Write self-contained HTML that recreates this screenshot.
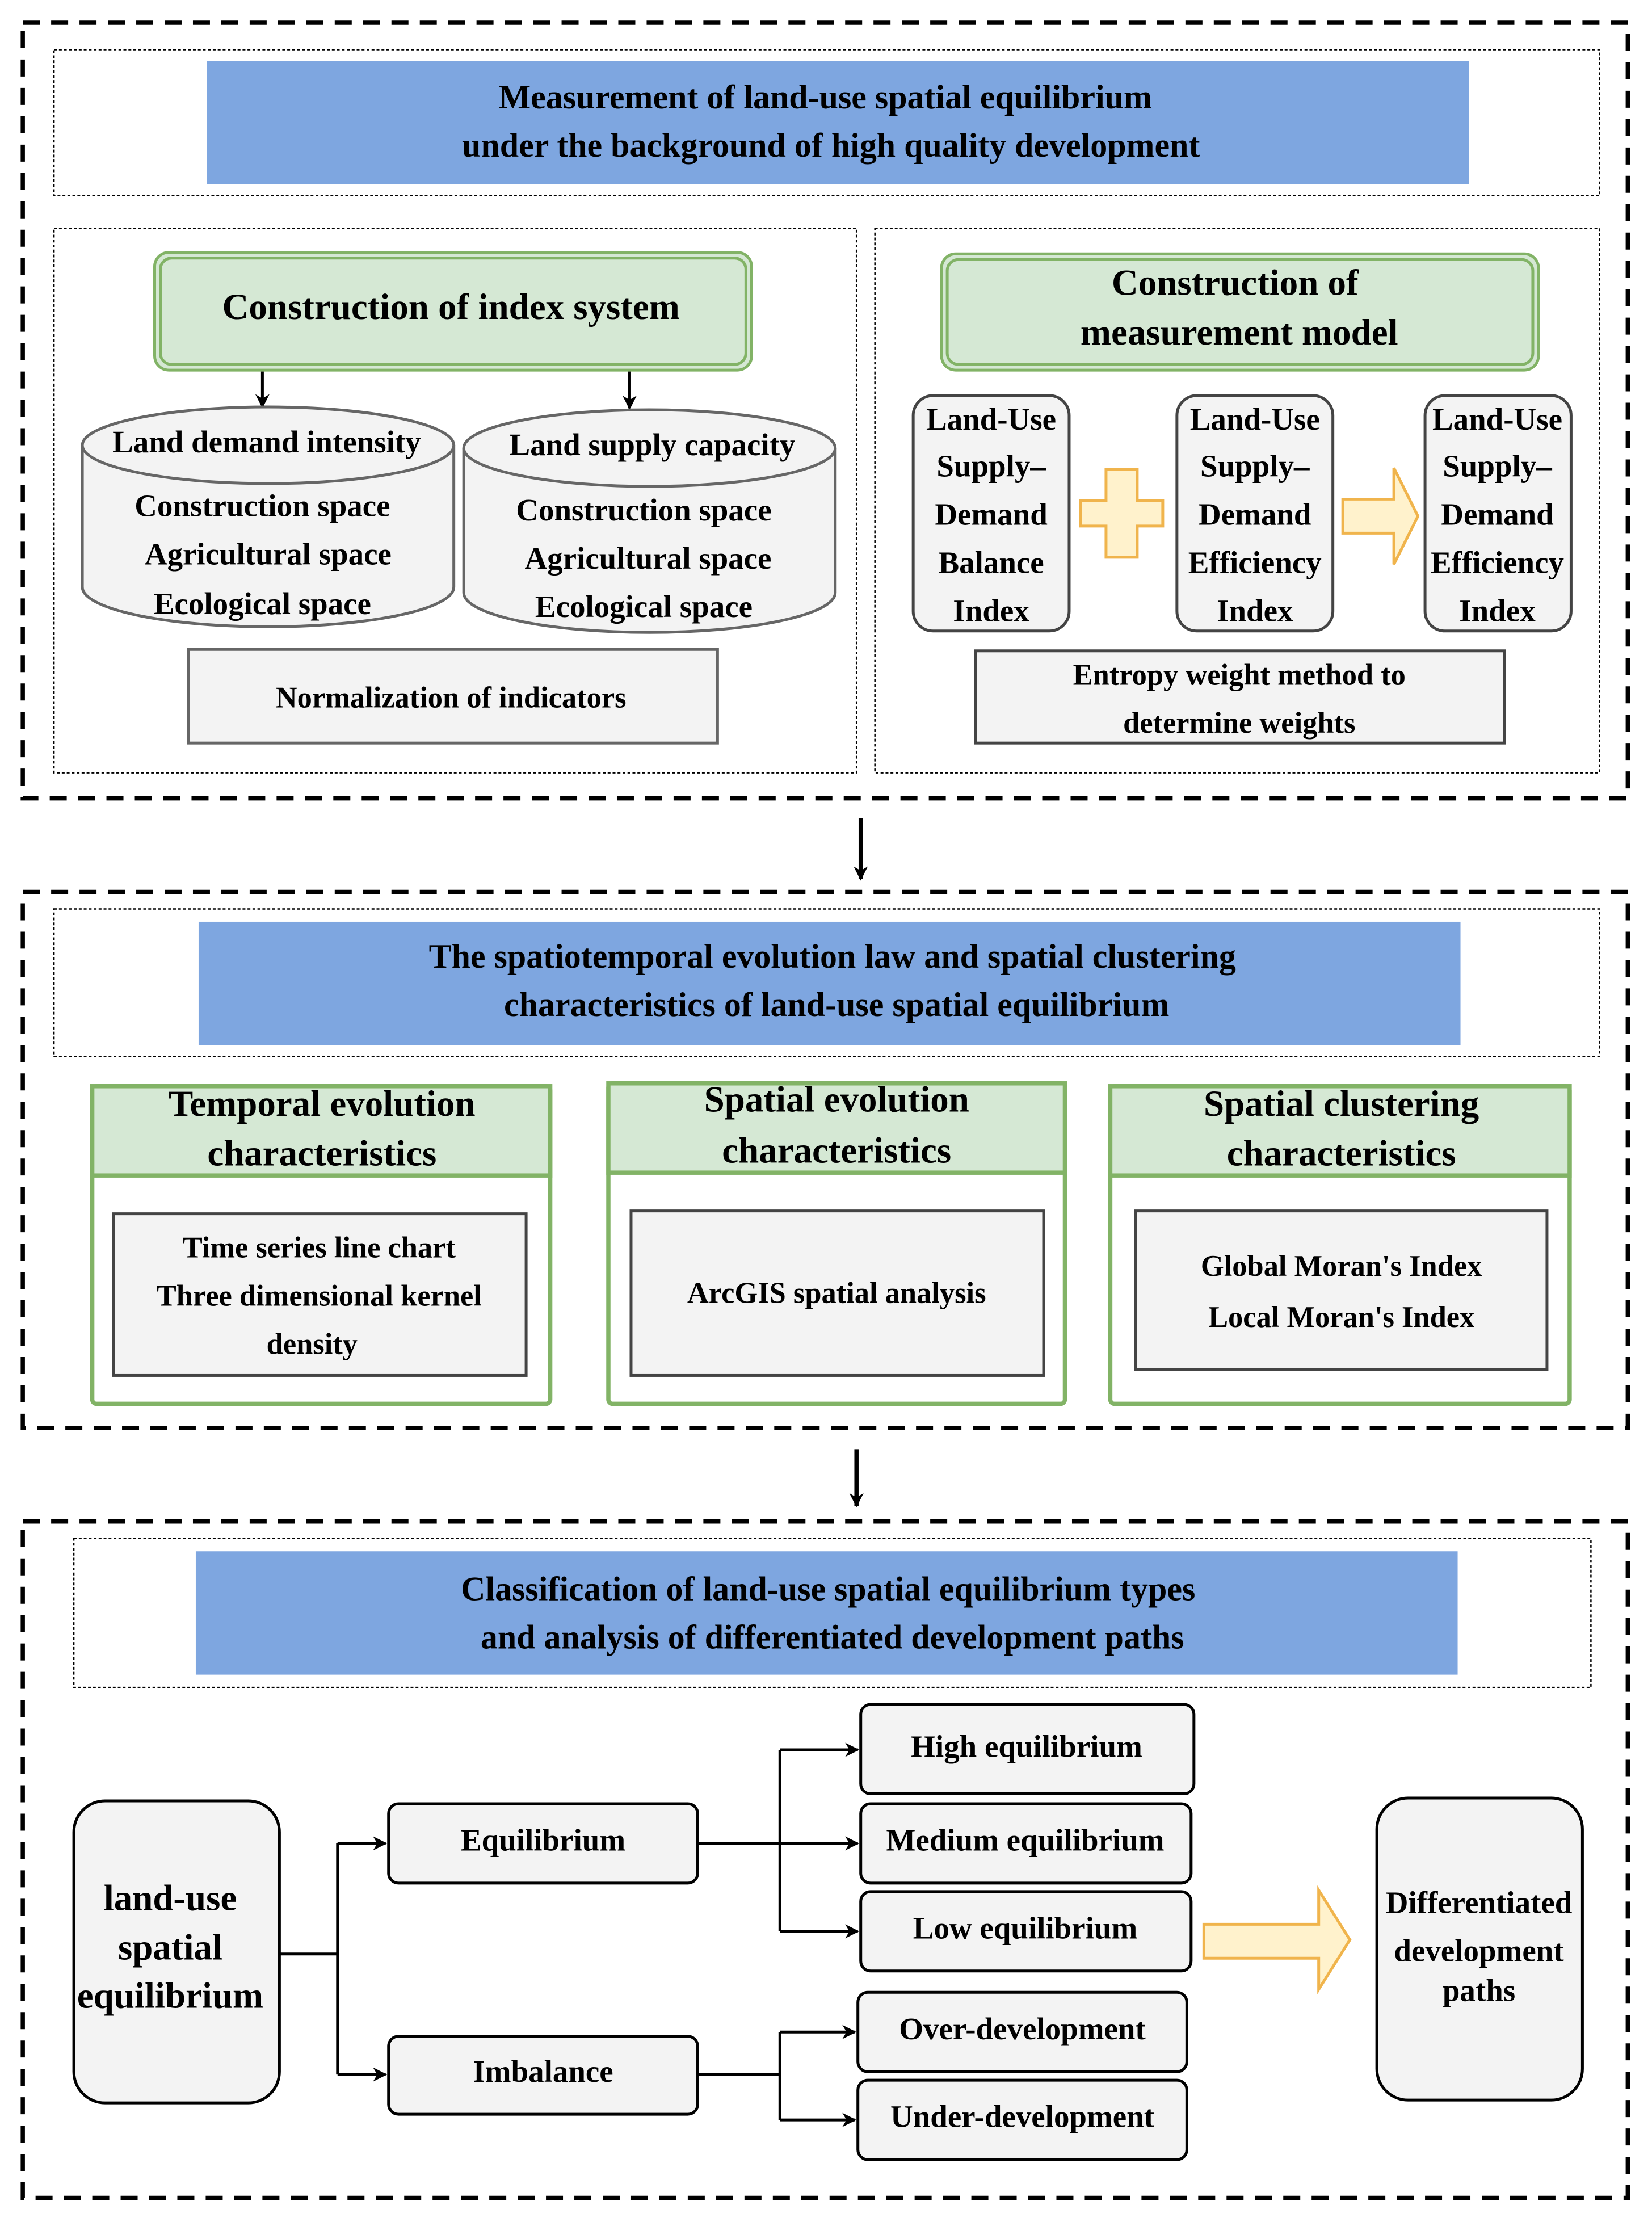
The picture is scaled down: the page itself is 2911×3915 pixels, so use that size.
<!DOCTYPE html>
<html><head><meta charset="utf-8">
<style>
html,body{margin:0;padding:0;background:#fff;font-family:"Liberation Serif","DejaVu Serif",serif;}
svg{display:block;}
svg text{font-family:"Liberation Serif","DejaVu Serif",serif;font-weight:bold;fill:#000;text-anchor:middle;dominant-baseline:middle;}
</style></head>
<body>
<svg width="2911" height="3915" viewBox="0 0 1165 1567" xmlns="http://www.w3.org/2000/svg" font-family="'Liberation Serif', 'DejaVu Serif', serif" font-weight="bold">
<defs>
<marker id="ar" markerWidth="10" markerHeight="10" refX="9" refY="5" orient="auto" markerUnits="userSpaceOnUse">
<path d="M0,0 L10,5 L0,10 L3,5 Z" fill="#000"/>
</marker>
</defs>
<g fill="none" stroke="#000">
<rect x="16" y="16" width="1132" height="547" stroke-width="3" stroke-dasharray="12,8"/>
<rect x="16" y="629" width="1132" height="378" stroke-width="3" stroke-dasharray="12,8"/>
<rect x="16" y="1073" width="1132" height="477" stroke-width="3" stroke-dasharray="12,8"/>
<g stroke-width="1" stroke-dasharray="2,1.5">
<rect x="38" y="35" width="1090" height="103"/>
<rect x="38" y="161" width="566" height="384"/>
<rect x="617" y="161" width="511" height="384"/>
<rect x="38" y="641" width="1090" height="104"/>
<rect x="52" y="1085" width="1070" height="105"/>
</g>
</g>
<rect x="146" y="43" width="890" height="87" fill="#7EA6E0"/>
<text x="582" y="71" font-size="24">Measurement of land-use spatial equilibrium</text>
<text x="586" y="105" font-size="24">under the background of high quality development</text>
<rect x="140" y="650" width="890" height="87" fill="#7EA6E0"/>
<text x="587" y="677" font-size="24">The spatiotemporal evolution law and spatial clustering</text>
<text x="590" y="711" font-size="24">characteristics of land-use spatial equilibrium</text>
<rect x="138" y="1094" width="890" height="87" fill="#7EA6E0"/>
<text x="584" y="1123" font-size="24">Classification of land-use spatial equilibrium types</text>
<text x="587" y="1157" font-size="24">and analysis of differentiated development paths</text>

<rect x="109" y="178" width="421" height="83" rx="10" fill="#d5e8d4" stroke="#82b366" stroke-width="2"/>
<rect x="113" y="182" width="413" height="75" rx="8" fill="none" stroke="#82b366" stroke-width="2"/>
<text x="318" y="219" font-size="26">Construction of index system</text>
<line x1="185" y1="262" x2="185" y2="287" stroke="#000" stroke-width="2" marker-end="url(#ar)"/>
<line x1="444" y1="262" x2="444" y2="288" stroke="#000" stroke-width="2" marker-end="url(#ar)"/>
<g fill="#f3f3f3" stroke="#666" stroke-width="2">
<path d="M58,314 L58,414 A131,28 0 0 0 320,414 L320,314"/>
<ellipse cx="189" cy="314" rx="131" ry="27"/>
<path d="M327,316 L327,418 A131,28 0 0 0 589,418 L589,316"/>
<ellipse cx="458" cy="316" rx="131" ry="27"/>
<rect x="133" y="458" width="373" height="66"/>
</g>
<text x="188" y="314" font-size="22">Land demand intensity</text>
<text x="185" y="359" font-size="22">Construction space</text>
<text x="189" y="393" font-size="22">Agricultural space</text>
<text x="185" y="428" font-size="22">Ecological space</text>
<text x="460" y="316" font-size="22">Land supply capacity</text>
<text x="454" y="362" font-size="22">Construction space</text>
<text x="457" y="396" font-size="22">Agricultural space</text>
<text x="454" y="430" font-size="22">Ecological space</text>
<text x="318" y="494" font-size="21">Normalization of indicators</text>

<rect x="664" y="179" width="421" height="82" rx="10" fill="#d5e8d4" stroke="#82b366" stroke-width="2"/>
<rect x="668" y="183" width="413" height="74" rx="8" fill="none" stroke="#82b366" stroke-width="2"/>
<text x="871" y="202" font-size="26">Construction of</text>
<text x="874" y="237" font-size="26">measurement model</text>
<g fill="#f3f3f3" stroke="#444" stroke-width="2">
<rect x="644" y="279" width="110" height="166" rx="14"/>
<rect x="830" y="279" width="110" height="166" rx="14"/>
<rect x="1005" y="279" width="103" height="166" rx="14"/>
<rect x="688" y="459" width="373" height="65"/>
</g>
<g font-size="22">
<text x="699" y="298">Land-Use</text><text x="699" y="331">Supply–</text><text x="699" y="365">Demand</text><text x="699" y="399">Balance</text><text x="699" y="433">Index</text>
<text x="885" y="298">Land-Use</text><text x="885" y="331">Supply–</text><text x="885" y="365">Demand</text><text x="885" y="399">Efficiency</text><text x="885" y="433">Index</text>
<text x="1056" y="298">Land-Use</text><text x="1056" y="331">Supply–</text><text x="1056" y="365">Demand</text><text x="1056" y="399">Efficiency</text><text x="1056" y="433">Index</text>
</g>
<text x="874" y="478" font-size="21">Entropy weight method to</text>
<text x="874" y="512" font-size="21">determine weights</text>
<path d="M780,331 L802,331 L802,353 L820,353 L820,371 L802,371 L802,393 L780,393 L780,371 L762,371 L762,353 L780,353 Z" fill="#fff2cc" stroke="#f0b44c" stroke-width="2"/>
<path d="M947,352 L983,352 L983,330 L1000,364 L983,398 L983,376 L947,376 Z" fill="#fff2cc" stroke="#f0b44c" stroke-width="2"/>

<line x1="607" y1="577" x2="607" y2="620" stroke="#000" stroke-width="3" marker-end="url(#ar)"/>
<line x1="604" y1="1022" x2="604" y2="1062" stroke="#000" stroke-width="3" marker-end="url(#ar)"/>

<g stroke="#82b366" stroke-width="3">
<rect x="65" y="766" width="323" height="224" rx="3" fill="#fff"/>
<rect x="65" y="766" width="323" height="63" fill="#d5e8d4"/>
<rect x="429" y="764" width="322" height="226" rx="3" fill="#fff"/>
<rect x="429" y="764" width="322" height="63" fill="#d5e8d4"/>
<rect x="783" y="766" width="324" height="224" rx="3" fill="#fff"/>
<rect x="783" y="766" width="324" height="63" fill="#d5e8d4"/>
</g>
<g fill="#f3f3f3" stroke="#444" stroke-width="2">
<rect x="80" y="856" width="291" height="114"/>
<rect x="445" y="854" width="291" height="116"/>
<rect x="801" y="854" width="290" height="112"/>
</g>
<g font-size="26">
<text x="227" y="781">Temporal evolution</text><text x="227" y="816">characteristics</text>
<text x="590" y="778">Spatial evolution</text><text x="590" y="814">characteristics</text>
<text x="946" y="781">Spatial clustering</text><text x="946" y="816">characteristics</text>
</g>
<g font-size="21">
<text x="225" y="882">Time series line chart</text>
<text x="225" y="916">Three dimensional kernel</text>
<text x="220" y="950">density</text>
<text x="590" y="914">ArcGIS spatial analysis</text>
<text x="946" y="895">Global Moran's Index</text>
<text x="946" y="931">Local Moran's Index</text>
</g>

<g fill="#f3f3f3" stroke="#000" stroke-width="2">
<rect x="52" y="1270" width="145" height="213" rx="22"/>
<rect x="971" y="1268" width="145" height="213" rx="22"/>
<rect x="274" y="1272" width="218" height="56" rx="7"/>
<rect x="274" y="1436" width="218" height="55" rx="7"/>
<rect x="607" y="1202" width="235" height="63" rx="7"/>
<rect x="607" y="1272" width="233" height="56" rx="7"/>
<rect x="607" y="1334" width="233" height="56" rx="7"/>
<rect x="605" y="1405" width="232" height="56" rx="7"/>
<rect x="605" y="1467" width="232" height="56" rx="7"/>
</g>
<g fill="none" stroke="#000" stroke-width="2">
<polyline points="197,1378 238,1378"/>
<line x1="238" y1="1300" x2="238" y2="1463"/>
<line x1="238" y1="1300" x2="272" y2="1300" marker-end="url(#ar)"/>
<line x1="238" y1="1463" x2="272" y2="1463" marker-end="url(#ar)"/>
<line x1="492" y1="1300" x2="605" y2="1300" marker-end="url(#ar)"/>
<line x1="550" y1="1234" x2="550" y2="1362"/>
<line x1="550" y1="1234" x2="605" y2="1234" marker-end="url(#ar)"/>
<line x1="550" y1="1362" x2="605" y2="1362" marker-end="url(#ar)"/>
<line x1="492" y1="1463" x2="550" y2="1463"/>
<line x1="550" y1="1433" x2="550" y2="1495"/>
<line x1="550" y1="1433" x2="603" y2="1433" marker-end="url(#ar)"/>
<line x1="550" y1="1495" x2="603" y2="1495" marker-end="url(#ar)"/>
</g>
<path d="M849,1357 L930,1357 L930,1333 L952,1368 L930,1403 L930,1381 L849,1381 Z" fill="#fff2cc" stroke="#f0b44c" stroke-width="2"/>
<g font-size="26">
<text x="120" y="1341">land-use</text><text x="120" y="1376">spatial</text><text x="120" y="1410">equilibrium</text>
</g>
<g font-size="22">
<text x="1043" y="1344">Differentiated</text><text x="1043" y="1378">development</text><text x="1043" y="1406">paths</text>
<text x="383" y="1300">Equilibrium</text>
<text x="383" y="1463">Imbalance</text>
<text x="724" y="1234">High equilibrium</text>
<text x="723" y="1300">Medium equilibrium</text>
<text x="723" y="1362">Low equilibrium</text>
<text x="721" y="1433">Over-development</text>
<text x="721" y="1495">Under-development</text>
</g>
</svg>
</body></html>
